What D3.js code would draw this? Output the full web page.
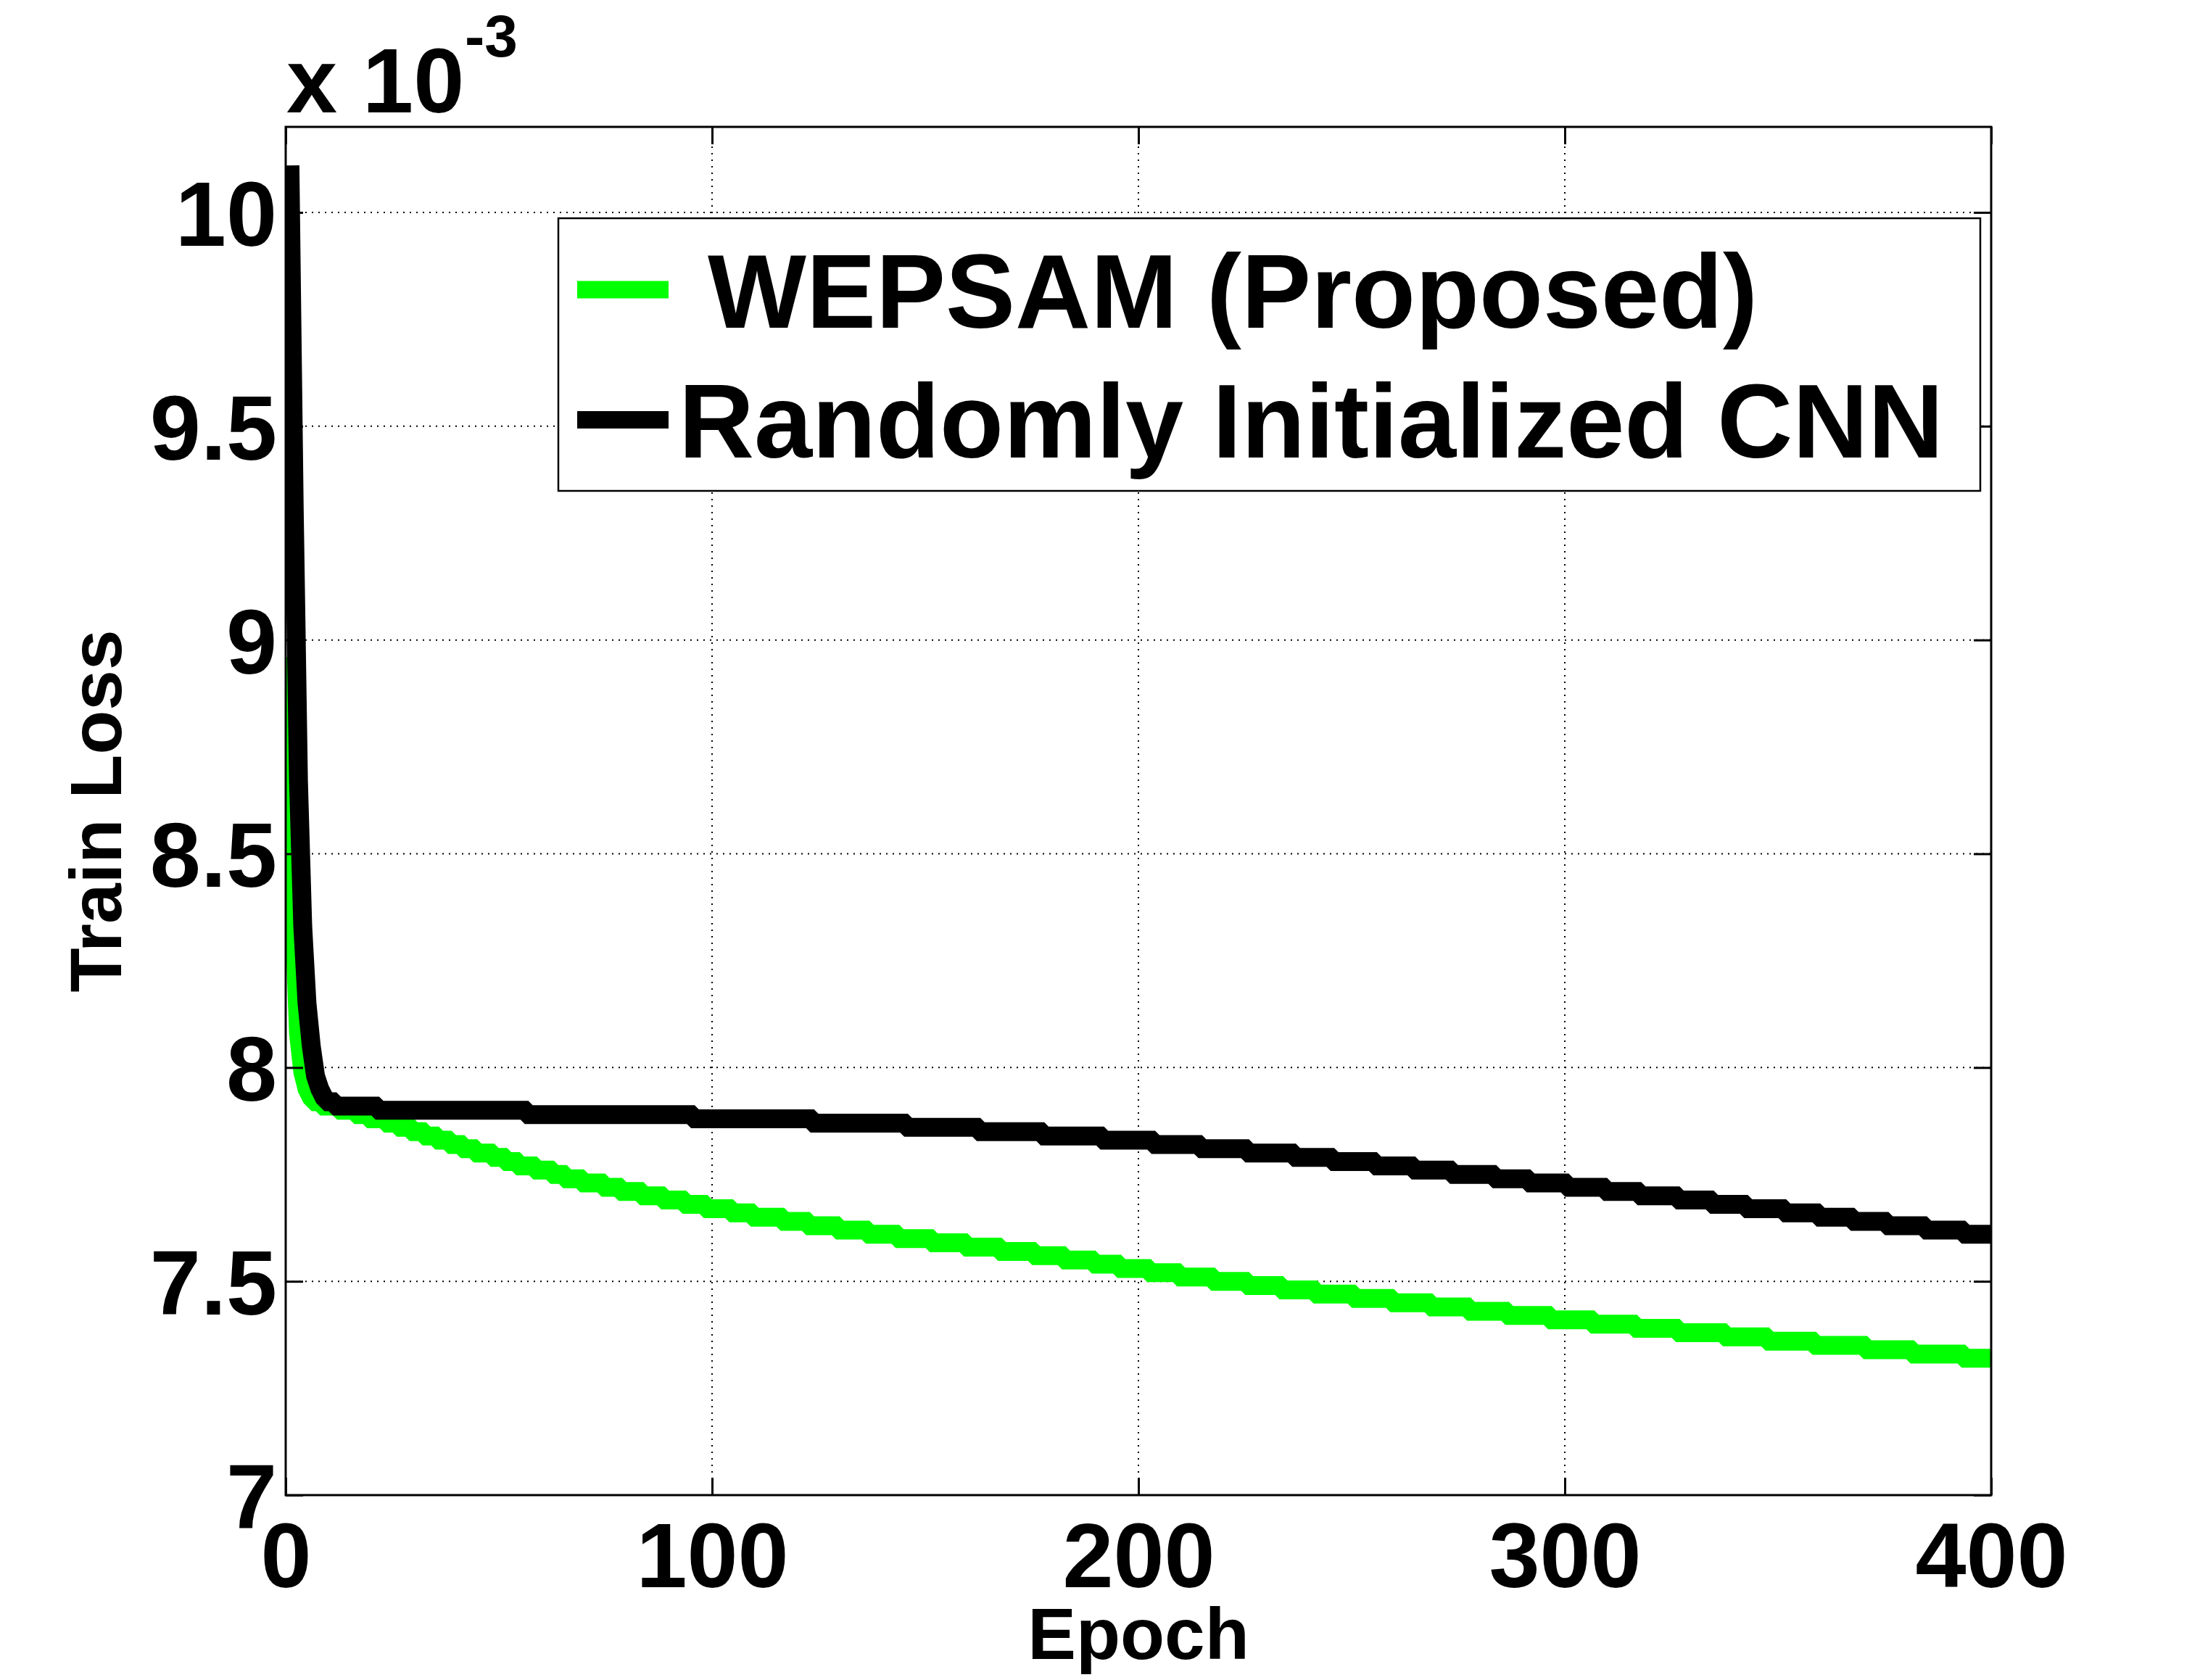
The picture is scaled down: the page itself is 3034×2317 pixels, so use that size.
<!DOCTYPE html>
<html>
<head>
<meta charset="utf-8">
<script src="https://cdn.jsdelivr.net/npm/d3@7"></script>
<style>
  body { margin: 0; background: #fff; }
  svg { display: block; }
  text { font-family: "Liberation Sans", Arial, sans-serif; font-weight: bold; fill: #000; }
</style>
</head>
<body>
<div id="chart"></div>
<script>
// tick values
const epochTicks = [0, 100, 200, 300, 400];
const lossTicks = [7, 7.5, 8, 8.5, 9, 9.5, 10];

// series names
const seriesNames = [" WEPSAM (Proposed)", "Randomly Initialized CNN"];

// loss (x 10^-3) for the first epochs
const greenHead = [[1, 8.96], [2, 8.35], [3, 8.08], [4, 7.99], [5, 7.95], [6, 7.93], [7, 7.92], [8, 7.92]];
const blackHead = [[1, 10.11], [2, 9.31], [3, 8.67], [4, 8.33], [5, 8.15], [6, 8.05], [7, 7.98], [8, 7.95], [9, 7.93], [10, 7.92], [11, 7.92]];

// after that the values are rounded to 1e-5, so they come as steps: [first epoch, value]
const greenSteps = [
  [9, 7.91], [13, 7.90], [17, 7.89], [20, 7.88], [24, 7.87], [27, 7.86], [30, 7.85], [33, 7.84],
  [36, 7.83], [39, 7.82], [42, 7.81], [45, 7.80], [49, 7.79], [52, 7.78], [55, 7.77], [59, 7.76],
  [63, 7.75], [66, 7.74], [70, 7.73], [75, 7.72], [79, 7.71], [84, 7.70], [89, 7.69], [94, 7.68],
  [99, 7.67], [105, 7.66], [110, 7.65], [117, 7.64], [123, 7.63], [130, 7.62], [137, 7.61], [144, 7.60],
  [152, 7.59], [160, 7.58], [168, 7.57], [176, 7.56], [183, 7.55], [190, 7.54], [196, 7.53], [203, 7.52],
  [210, 7.51], [218, 7.50], [226, 7.49], [234, 7.48], [242, 7.47], [251, 7.46], [260, 7.45], [269, 7.44],
  [278, 7.43], [287, 7.42], [297, 7.41], [307, 7.40], [317, 7.39], [327, 7.38], [338, 7.37], [348, 7.36],
  [359, 7.35], [371, 7.34], [382, 7.33], [394, 7.32]
];
const blackSteps = [
  [12, 7.91], [22, 7.90], [57, 7.89], [96, 7.88], [124, 7.87], [146, 7.86], [163, 7.85], [178, 7.84],
  [192, 7.83], [204, 7.82], [215, 7.81], [226, 7.80], [237, 7.79], [246, 7.78], [256, 7.77], [265, 7.76],
  [274, 7.75], [284, 7.74], [292, 7.73], [301, 7.72], [310, 7.71], [318, 7.70], [327, 7.69], [335, 7.68],
  [343, 7.67], [352, 7.66], [360, 7.65], [368, 7.64], [376, 7.63], [385, 7.62], [394, 7.61]
];
const lastEpoch = 400;

function buildSeries(head, steps) {
  const pts = head.slice();
  steps.forEach((s, i) => {
    const end = i < steps.length - 1 ? steps[i + 1][0] - 1 : lastEpoch;
    pts.push(s);
    if (end > s[0]) pts.push([end, s[1]]);
  });
  return pts;
}

const series = [
  { name: seriesNames[0], color: "#00ff00", points: buildSeries(greenHead, greenSteps) },
  { name: seriesNames[1], color: "#000000", points: buildSeries(blackHead, blackSteps) },
];

const width = 3034;
const height = 2317;
const plot = { left: 394, right: 2746, top: 175, bottom: 2062 };

const x = d3.scaleLinear().domain([0, 400]).range([plot.left, plot.right]);
const y = d3.scaleLinear().domain([7, 10.2]).range([plot.bottom, plot.top]);

const svg = d3.select("#chart").append("svg")
  .attr("width", width)
  .attr("height", height)
  .attr("viewBox", [0, 0, width, height]);

svg.append("rect").attr("width", width).attr("height", height).attr("fill", "#fff");

svg.append("clipPath").attr("id", "plot-clip")
  .append("rect")
  .attr("x", plot.left).attr("y", plot.top)
  .attr("width", plot.right - plot.left).attr("height", plot.bottom - plot.top);

// dotted grid
const grid = svg.append("g")
  .attr("stroke", "#000")
  .attr("stroke-width", 2)
  .attr("stroke-dasharray", "2 7");
grid.selectAll(".vgrid")
  .data(epochTicks.filter((d) => d > 0 && d < 400))
  .join("line")
  .attr("class", "vgrid")
  .attr("x1", (d) => x(d)).attr("x2", (d) => x(d))
  .attr("y1", plot.top).attr("y2", plot.bottom);
grid.selectAll(".hgrid")
  .data(lossTicks.filter((d) => d > 7))
  .join("line")
  .attr("class", "hgrid")
  .attr("x1", plot.left).attr("x2", plot.right)
  .attr("y1", (d) => y(d)).attr("y2", (d) => y(d));

// curves
const line = d3.line().x((d) => x(d[0])).y((d) => y(d[1]));
svg.append("g")
  .attr("clip-path", "url(#plot-clip)")
  .selectAll(".curve")
  .data(series)
  .join("path")
  .attr("class", "curve")
  .attr("fill", "none")
  .attr("stroke", (d) => d.color)
  .attr("stroke-width", 26)
  .attr("stroke-linejoin", "miter")
  .attr("stroke-miterlimit", 4)
  .attr("d", (d) => line(d.points));

// axes, ticks pointing inward on all four sides
const tickLen = 24;
function styleAxis(g) {
  g.select(".domain").remove();
  g.selectAll(".tick line").attr("stroke", "#000").attr("stroke-width", 3);
  g.selectAll(".tick text")
    .attr("font-family", '"Liberation Sans", Arial, sans-serif')
    .attr("font-weight", "bold")
    .attr("font-size", 126)
    .attr("fill", "#000");
}

svg.append("g")
  .attr("transform", `translate(0,${plot.bottom})`)
  .call(d3.axisBottom(x).tickValues(epochTicks).tickSize(-tickLen).tickPadding(38).tickFormat(d3.format("d")))
  .call(styleAxis);
svg.append("g")
  .attr("transform", `translate(0,${plot.top})`)
  .call(d3.axisTop(x).tickValues(epochTicks).tickSize(-tickLen).tickFormat(""))
  .call(styleAxis);
svg.append("g")
  .attr("transform", `translate(${plot.left},0)`)
  .call(d3.axisLeft(y).tickValues(lossTicks).tickSize(-tickLen).tickPadding(12).tickFormat(d3.format("~g")))
  .call(styleAxis)
  .call((g) => g.selectAll(".tick text").attr("dy", "0.36em"));
svg.append("g")
  .attr("transform", `translate(${plot.right},0)`)
  .call(d3.axisRight(y).tickValues(lossTicks).tickSize(-tickLen).tickFormat(""))
  .call(styleAxis);

// box
svg.append("rect")
  .attr("x", plot.left).attr("y", plot.top)
  .attr("width", plot.right - plot.left).attr("height", plot.bottom - plot.top)
  .attr("fill", "none")
  .attr("stroke", "#000")
  .attr("stroke-width", 3);

// exponent label
const expo = svg.append("text").attr("x", 395).attr("y", 155).attr("font-size", 126);
expo.append("tspan").text("x 10");
expo.append("tspan").attr("x", 641).attr("y", 78).attr("font-size", 82).text("-3");

// axis titles
svg.append("text")
  .attr("x", (plot.left + plot.right) / 2)
  .attr("y", 2288)
  .attr("text-anchor", "middle")
  .attr("font-size", 100)
  .text("Epoch");
svg.append("text")
  .attr("transform", `translate(167,${(plot.top + plot.bottom) / 2}) rotate(-90)`)
  .attr("text-anchor", "middle")
  .attr("font-size", 100)
  .text("Train Loss");

// legend
const legend = svg.append("g");
legend.append("rect")
  .attr("x", 770).attr("y", 301)
  .attr("width", 2731 - 770).attr("height", 677 - 301)
  .attr("fill", "#fff")
  .attr("stroke", "#000")
  .attr("stroke-width", 2.5);

const legendRowY = [399.5, 579];
const legendTextX = [936, 936];
const items = legend.selectAll(".item")
  .data(series)
  .join("g")
  .attr("class", "item")
  .attr("transform", (d, i) => `translate(0,${legendRowY[i]})`);
items.append("line")
  .attr("x1", 796).attr("x2", 922)
  .attr("stroke", (d) => d.color)
  .attr("stroke-width", 24);
items.append("text")
  .attr("x", (d, i) => legendTextX[i])
  .attr("y", 52)
  .attr("font-size", 144)
  .attr("xml:space", "preserve")
  .style("white-space", "pre")
  .text((d) => d.name);
</script>
</body>
</html>
